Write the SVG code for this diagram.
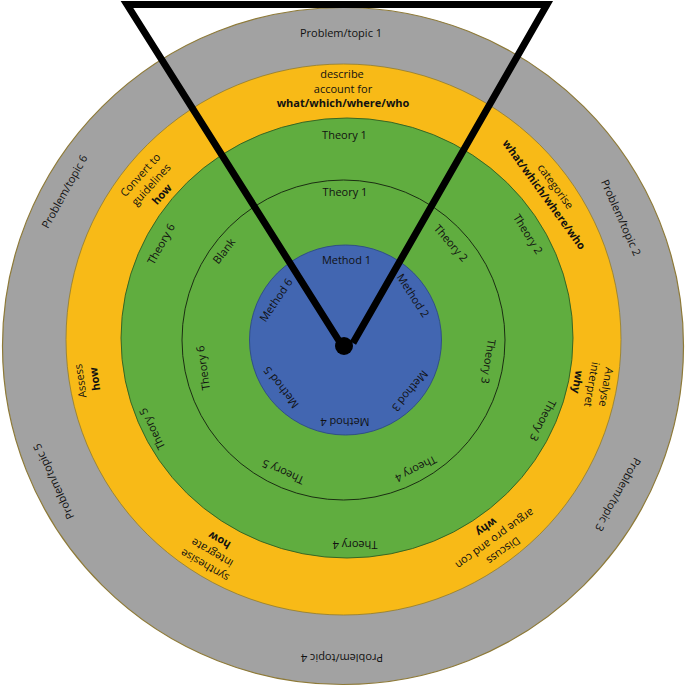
<svg xmlns="http://www.w3.org/2000/svg" width="685" height="687" viewBox="0 0 685 687">
<style>
text{font-family:"Open Sans","Noto Sans","Liberation Sans",sans-serif;font-size:11px;fill:#111;text-anchor:middle}
.b{font-weight:700}
.ring-gray{fill:#A2A2A2;stroke:#8E7A38;stroke-width:1.2}
.ring-yellow{fill:#F8BA17;stroke:#8F7B2E;stroke-width:0.8}
.ring-green{fill:#60AD3F;stroke:#2F5E20;stroke-width:0.9}
.ring-thin{fill:none;stroke:#1B2E12;stroke-width:1}
.ring-blue{fill:#4266B1;stroke:#2C4A86;stroke-width:0.9}
.pointer{fill:none;stroke:#000;stroke-width:7;stroke-linejoin:miter;stroke-linecap:butt}
</style>
<rect width="685" height="687" fill="#fff"/>
<g id="rings">
<ellipse id="problems" class="ring-gray" cx="343" cy="346" rx="340.5" ry="338.5"/>
<ellipse id="questions" class="ring-yellow" cx="343.5" cy="339.5" rx="277.5" ry="275.5"/>
<ellipse id="theories-outer" class="ring-green" cx="347" cy="338" rx="226" ry="220"/>
<ellipse id="theories-inner" class="ring-thin" cx="343.5" cy="340" rx="161.5" ry="160"/>
<ellipse id="methods" class="ring-blue" cx="345.5" cy="340" rx="96" ry="95"/>
</g>
<g id="problem-labels">
<g id="problem1"><text transform="translate(341,33)" y="4">Problem/topic 1</text></g>
<g id="problem2"><text transform="translate(621,217.5) rotate(66)" y="4">Problem/topic 2</text></g>
<g id="problem3"><text transform="translate(618,494.5) rotate(119)" y="4">Problem/topic 3</text></g>
<g id="problem4"><text transform="translate(342,658) rotate(180)" y="4">Problem/topic 4</text></g>
<g id="problem5"><text transform="translate(53.5,481.5) rotate(245)" y="4">Problem/topic 5</text></g>
<g id="problem6"><text transform="translate(64.5,191.5) rotate(-61)" y="4">Problem/topic 6</text></g>
</g>
<g id="question-labels">
<g id="q1"><text><tspan x="342" y="78">describe</tspan><tspan x="343" y="92.5">account for</tspan><tspan class="b" x="343" y="107">what/which/where/who</tspan></text></g>
<g id="q2"><text transform="translate(550,190.5) rotate(54)"><tspan x="0" y="-3">categorise</tspan><tspan class="b" x="0" y="11">what/which/where/who</tspan></text></g>
<g id="q3"><text transform="translate(592,384.5) rotate(100)"><tspan x="0" y="-10.5">Analyse</tspan><tspan x="0" y="4">interpret</tspan><tspan class="b" x="0" y="18.5">why</tspan></text></g>
<g id="q4"><text transform="translate(495,539) rotate(144)"><tspan x="0" y="-10.5">Discuss</tspan><tspan x="0" y="4">argue pro and con</tspan><tspan class="b" x="0" y="18.5">why</tspan></text></g>
<g id="q5"><text transform="translate(212,553) rotate(210)"><tspan x="0" y="-10.5">synthesise</tspan><tspan x="0" y="4">integrate</tspan><tspan class="b" x="0" y="18.5">how</tspan></text></g>
<g id="q6"><text transform="translate(87.5,380) rotate(-98)"><tspan x="0" y="-3.3">Assess</tspan><tspan class="b" x="0" y="11.2">how</tspan></text></g>
<g id="q7"><text transform="translate(151,184.5) rotate(-48)"><tspan x="0" y="-10.5">Convert to</tspan><tspan x="0" y="4">guidelines</tspan><tspan class="b" x="0" y="18.5">how</tspan></text></g>
</g>
<g id="theory-outer-labels">
<g id="to1"><text x="344.5" y="138.5">Theory 1</text></g>
<g id="to2"><text transform="translate(528,234) rotate(58)" y="4">Theory 2</text></g>
<g id="to3"><text transform="translate(543,420.5) rotate(117)" y="4">Theory 3</text></g>
<g id="to4"><text transform="translate(355,545) rotate(180)" y="4">Theory 4</text></g>
<g id="to5"><text transform="translate(152,429) rotate(244)" y="4">Theory 5</text></g>
<g id="to6"><text transform="translate(161,244) rotate(-61)" y="4">Theory 6</text></g>
</g>
<g id="theory-inner-labels">
<g id="ti1"><text x="345" y="195.5">Theory 1</text></g>
<g id="ti2"><text transform="translate(451,243) rotate(49)" y="4">Theory 2</text></g>
<g id="ti3"><text transform="translate(488.5,361.5) rotate(99)" y="4">Theory 3</text></g>
<g id="ti4"><text transform="translate(416,469) rotate(153)" y="4">Theory 4</text></g>
<g id="ti5"><text transform="translate(283,472) rotate(204)" y="4">Theory 5</text></g>
<g id="ti6"><text transform="translate(203,368) rotate(-98)" y="4">Theory 6</text></g>
<g id="blank"><text transform="translate(224,251) rotate(-52)" y="4">Blank</text></g>
</g>
<g id="method-labels">
<g id="m1"><text x="346.5" y="264">Method 1</text></g>
<g id="m2"><text transform="translate(413,295.5) rotate(57)" y="4">Method 2</text></g>
<g id="m3"><text transform="translate(410,391) rotate(130)" y="4">Method 3</text></g>
<g id="m4"><text transform="translate(345,422) rotate(180)" y="4">Method 4</text></g>
<g id="m5"><text transform="translate(281,387.5) rotate(232)" y="4">Method 5</text></g>
<g id="m6"><text transform="translate(276,300) rotate(-56)" y="4">Method 6</text></g>
</g>
<g id="connectors">
<path class="pointer" d="M341,344 L127,4.5 L547,4.5 L353,343"/>
<circle cx="344" cy="346" r="9" fill="#000"/>
</g>
</svg>
